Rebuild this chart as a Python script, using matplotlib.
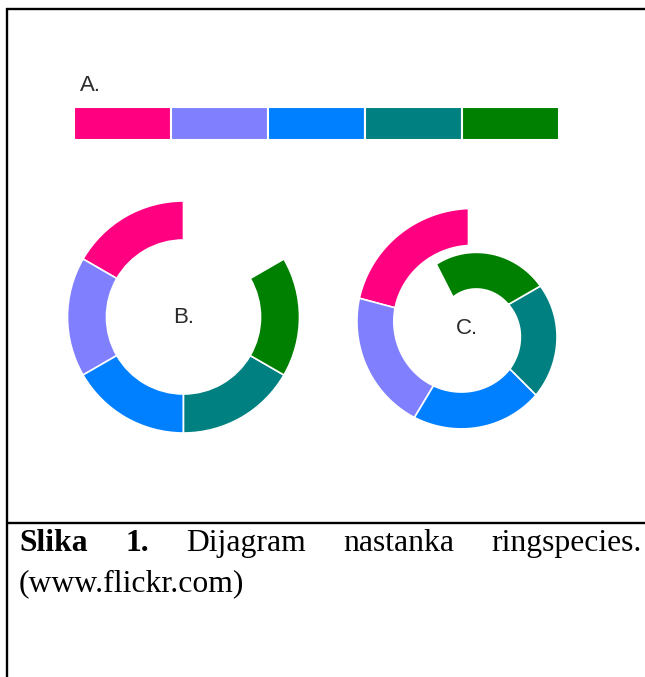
import numpy as np
import matplotlib
matplotlib.use('Agg')
import matplotlib.pyplot as plt

# ---------------- data ----------------
segment_names = ['s1', 's2', 's3', 's4', 's5']
segment_colors = ['#FF0080', '#8080FF', '#0080FF', '#008080', '#008000']
bar_values = [1, 1, 1, 1, 1]
b_spans = [60, 60, 60, 60, 60]          # degrees per segment, ring B
c_spans = [75, 74, 76, 75, 87]          # degrees per segment, spiral C
panel_labels = ['A.', 'B.', 'C.']
caption_words = ['Slika', '1.', 'Dijagram', 'nastanka', 'ringspecies.']
caption_bold = [True, True, False, False, False]
caption_line2 = '(www.flickr.com)'

# ---------------- style / geometry ----------------
W, H = 645, 677
START_DEG = 90
B_CENTER = (183.5, 317)
B_OUT, B_IN = 116, 77
C_CENTER = (468, 327)
C_OUTER_AT_BOUNDS = [119, 113, 105, 95.5, 83, 71]
C_WIDTH = 37
HALF = 130

fig = plt.figure(figsize=(W / 100, H / 100), dpi=100)
fig.patch.set_facecolor('white')


def px_axes(x0, y0, x1, y1, **kw):
    return fig.add_axes([x0 / W, 1 - y1 / H, (x1 - x0) / W, (y1 - y0) / H], **kw)


base = px_axes(0, 0, W, H)
base.set_xlim(0, W)
base.set_ylim(H, 0)
base.axis('off')

lw = 1.7
base.plot([6, W], [9, 9], color='black', lw=lw, solid_capstyle='butt')
base.plot([7, 7], [8, H], color='black', lw=lw, solid_capstyle='butt')
base.plot([7, W], [522.5, 522.5], color='black', lw=lw, solid_capstyle='butt')

# ---------------- A: strip of bars ----------------
axA = px_axes(73.5, 107, 558.5, 139.5)
axA.bar(np.arange(len(bar_values)), bar_values, width=1, color=segment_colors,
        edgecolor='white', linewidth=1.5)
axA.set_xlim(-0.5, len(bar_values) - 0.5)
axA.set_ylim(0, 1)
axA.axis('off')

# ---------------- B: ring ----------------
axB = px_axes(B_CENTER[0] - HALF, B_CENTER[1] - HALF, B_CENTER[0] + HALF, B_CENTER[1] + HALF,
              projection='polar')
b_starts = START_DEG + np.concatenate([[0], np.cumsum(b_spans)[:-1]])
b_mid = np.deg2rad(b_starts + np.array(b_spans) / 2)
axB.bar(b_mid, B_OUT - B_IN, width=np.deg2rad(b_spans), bottom=B_IN,
        color=segment_colors, edgecolor='white', linewidth=1.2)
axB.set_ylim(0, HALF)
axB.axis('off')

# ---------------- C: spiral ----------------
axC = px_axes(C_CENTER[0] - HALF, C_CENTER[1] - HALF, C_CENTER[0] + HALF, C_CENTER[1] + HALF,
              projection='polar')
c_bounds = START_DEG + np.concatenate([[0], np.cumsum(c_spans)])
for i, col in enumerate(segment_colors):
    th = np.linspace(c_bounds[i], c_bounds[i + 1], 80)
    ro = np.interp(th, c_bounds, C_OUTER_AT_BOUNDS)
    ri = ro - C_WIDTH
    axC.fill_between(np.deg2rad(th), ri, ro, facecolor=col, edgecolor='white', linewidth=1.2)
axC.set_ylim(0, HALF)
axC.axis('off')

# ---------------- labels ----------------
lab_kw = dict(fontsize=16, family='Liberation Sans', color='#2a2a2a', va='baseline')
base.text(80, 91, panel_labels[0], ha='left', **lab_kw)
base.text(B_CENTER[0], 323, panel_labels[1], ha='center', **lab_kw)
base.text(466.5, 334, panel_labels[2], ha='center', **lab_kw)

# ---------------- caption (justified line 1) ----------------
cap_kw = dict(fontsize=22.8, family='Liberation Serif', color='black', va='baseline')
texts = []
for w, b in zip(caption_words, caption_bold):
    texts.append(base.text(0, 551, w, ha='left', weight='bold' if b else 'normal', **cap_kw))
renderer = fig.canvas.get_renderer()
widths = [t.get_window_extent(renderer).width for t in texts]
left, right = 19, 642
gap = (right - left - sum(widths)) / (len(widths) - 1)
x = left
for t, wd in zip(texts, widths):
    t.set_x(x)
    x += wd + gap
base.text(left, 591, caption_line2, ha='left', **cap_kw)

fig.savefig('out.png', dpi=100, facecolor='white')
